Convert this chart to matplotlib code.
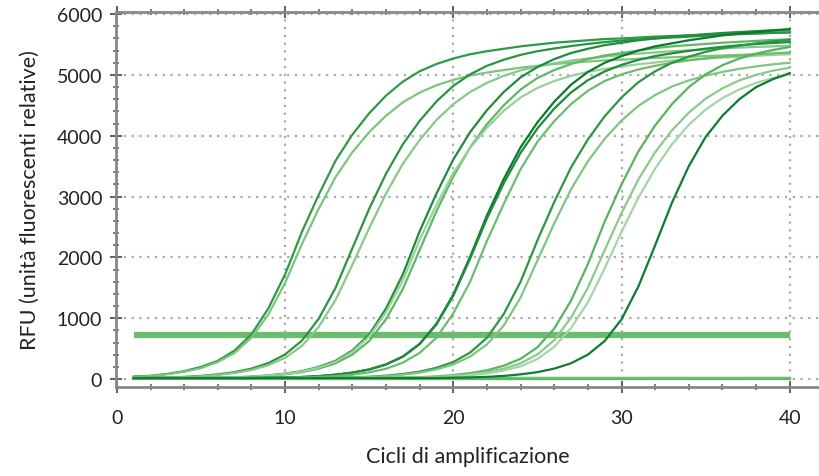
import matplotlib
matplotlib.use('Agg')
import matplotlib.pyplot as plt
from matplotlib.ticker import MultipleLocator

plt.rcParams['font.family'] = ['Lato', 'DejaVu Sans']

cycles = list(range(1, 41))

# amplification curves, RFU per cycle
rfu_a1 = [40, 55, 85, 130, 200, 300, 470, 735, 1160, 1720, 2420, 3030, 3590, 4020, 4370, 4660, 4890, 5060, 5180, 5270,
          5340, 5390, 5430, 5470, 5500, 5530, 5550, 5570, 5590, 5600, 5615, 5630, 5640, 5650, 5660, 5670, 5680, 5685, 5695, 5700]
rfu_a2 = [30, 50, 80, 120, 180, 280, 430, 680, 1060, 1580, 2220, 2800, 3320, 3730, 4060, 4330, 4550, 4710, 4830, 4920,
          4990, 5040, 5080, 5120, 5150, 5180, 5200, 5220, 5240, 5250, 5265, 5280, 5290, 5300, 5310, 5320, 5330, 5335, 5345, 5350]
rfu_b1 = [18, 23, 28, 36, 52, 78, 114, 172, 262, 405, 632, 992, 1500, 2150, 2800, 3375, 3860, 4245, 4565, 4820,
          5010, 5150, 5250, 5330, 5390, 5435, 5475, 5510, 5540, 5565, 5585, 5600, 5615, 5630, 5645, 5660, 5670, 5680, 5690, 5700]
rfu_b2 = [15, 20, 25, 32, 45, 68, 100, 150, 228, 350, 545, 860, 1300, 1880, 2480, 3050, 3540, 3930, 4260, 4520,
          4720, 4870, 4985, 5075, 5140, 5190, 5235, 5270, 5300, 5330, 5350, 5370, 5390, 5405, 5420, 5435, 5450, 5460, 5470, 5480]
rfu_c1 = [15, 15, 16, 18, 20, 25, 30, 40, 60, 90, 130, 200, 300, 470, 730, 1160, 1720, 2430, 3050, 3610,
          4060, 4420, 4720, 4960, 5130, 5260, 5360, 5430, 5490, 5530, 5570, 5600, 5630, 5650, 5670, 5690, 5705, 5720, 5735, 5750]
rfu_c2 = [15, 15, 15, 16, 18, 23, 28, 36, 52, 78, 114, 172, 260, 402, 626, 982, 1480, 2120, 2760, 3330,
          3810, 4190, 4500, 4760, 4950, 5080, 5180, 5260, 5320, 5360, 5400, 5440, 5470, 5490, 5510, 5530, 5545, 5560, 5575, 5585]
rfu_c3 = [14, 14, 15, 17, 19, 24, 29, 38, 57, 86, 124, 190, 285, 450, 700, 1100, 1620, 2290, 2865, 3390,
          3800, 4135, 4410, 4630, 4785, 4900, 4985, 5050, 5100, 5140, 5175, 5205, 5235, 5250, 5270, 5285, 5300, 5315, 5330, 5340]
rfu_d1 = [15, 15, 15, 15, 15, 16, 17, 19, 22, 27, 34, 48, 72, 106, 158, 240, 370, 580, 910, 1390,
          2010, 2690, 3290, 3810, 4220, 4560, 4840, 5050, 5200, 5310, 5400, 5470, 5520, 5570, 5610, 5650, 5680, 5705, 5730, 5750]
rfu_d2 = [15, 15, 15, 15, 15, 16, 17, 19, 22, 27, 34, 48, 72, 106, 158, 240, 368, 574, 898, 1370,
          1980, 2640, 3220, 3720, 4120, 4446, 4712, 4914, 5058, 5166, 5248, 5310, 5356, 5396, 5432, 5462, 5488, 5508, 5526, 5541]
rfu_d3 = [15, 15, 15, 15, 15, 15, 16, 17, 19, 22, 27, 34, 48, 72, 110, 170, 270, 430, 680, 1080,
          1600, 2270, 2880, 3450, 3900, 4240, 4520, 4740, 4900, 5010, 5090, 5150, 5200, 5240, 5270, 5300, 5320, 5340, 5355, 5370]
rfu_e1 = [15, 15, 15, 15, 15, 15, 15, 15, 16, 17, 18, 20, 24, 29, 38, 56, 84, 122, 186, 280,
          436, 678, 1070, 1600, 2280, 2910, 3480, 3940, 4320, 4630, 4880, 5060, 5200, 5300, 5380, 5440, 5480, 5520, 5550, 5580]
rfu_e2 = [15, 15, 15, 15, 15, 15, 15, 15, 15, 16, 17, 18, 22, 26, 33, 48, 72, 105, 160, 240,
          370, 570, 880, 1340, 1950, 2560, 3120, 3580, 3950, 4250, 4490, 4670, 4810, 4910, 4990, 5050, 5100, 5140, 5175, 5200]
rfu_f1 = [15, 15, 15, 15, 15, 15, 15, 15, 15, 15, 15, 15, 16, 17, 18, 21, 26, 32, 44, 66,
          98, 144, 220, 334, 522, 830, 1290, 1890, 2590, 3200, 3740, 4170, 4520, 4800, 5010, 5160, 5270, 5350, 5410, 5460]
rfu_f2 = [15, 15, 15, 15, 15, 15, 15, 15, 15, 15, 15, 15, 15, 16, 17, 18, 22, 27, 36, 52,
          78, 114, 172, 260, 405, 640, 1010, 1500, 2120, 2730, 3280, 3730, 4090, 4380, 4610, 4780, 4910, 5000, 5070, 5120]
rfu_f3 = [15, 15, 15, 15, 15, 15, 15, 15, 15, 15, 15, 15, 15, 15, 15, 16, 19, 23, 30, 42,
          62, 92, 140, 210, 330, 530, 840, 1260, 1820, 2420, 2980, 3460, 3860, 4180, 4430, 4620, 4760, 4870, 4950, 5010]
rfu_g1 = [15, 15, 15, 15, 15, 15, 15, 15, 15, 15, 15, 15, 15, 15, 15, 15, 16, 17, 18, 23,
          28, 36, 52, 78, 114, 172, 260, 402, 626, 982, 1520, 2200, 2900, 3500, 3980, 4330, 4600, 4800, 4930, 5030]
# negative controls, flat near zero
rfu_neg1 = [40, 35, 30, 28, 26, 25, 24, 24, 23, 23, 22, 22, 22, 21, 21, 21, 20, 20, 20, 20,
            20, 20, 20, 20, 20, 20, 20, 20, 20, 20, 20, 20, 20, 20, 20, 20, 20, 20, 20, 20]
rfu_neg2 = [10, 8, 6, 5, 5, 4, 4, 3, 3, 3, 2, 2, 2, 2, 2, 2, 2, 2, 2, 2,
            2, 2, 2, 2, 2, 2, 2, 2, 2, 2, 2, 2, 2, 2, 2, 2, 2, 2, 2, 2]

threshold_cycles = [1, 40]
threshold_rfu = [730, 730]

curves = [
    (rfu_a1, '#2f9a44'), (rfu_a2, '#7cc47f'),
    (rfu_b1, '#2b9542'), (rfu_b2, '#86c988'),
    (rfu_c1, '#1e8c3c'), (rfu_c2, '#5fb865'), (rfu_c3, '#98d19a'),
    (rfu_d1, '#0b7a2f'), (rfu_d2, '#1f8b3b'), (rfu_d3, '#6bbd70'),
    (rfu_e1, '#2d9643'), (rfu_e2, '#7fc682'),
    (rfu_f1, '#58b35f'), (rfu_f2, '#8acb8c'), (rfu_f3, '#a2d6a4'),
    (rfu_g1, '#0e7c32'),
]

fig = plt.figure(figsize=(8.2, 4.77), dpi=100)
ax = fig.add_axes([0.1415, 0.1866, 0.8585, 0.7868])

ax.plot(threshold_cycles, threshold_rfu, color='#6cbd6b', lw=4.5, solid_capstyle='butt', zorder=2)
ax.plot(cycles, rfu_neg1, color='#7cc47f', lw=1.7, zorder=3)
ax.plot(cycles, rfu_neg2, color='#5fb865', lw=1.7, zorder=3)
for vals, col in curves:
    ax.plot(cycles, vals, color=col, lw=1.6, zorder=3)

ax.set_xlim(-0.05, 41.8)
ax.set_ylim(-130, 6040)
ax.xaxis.set_major_locator(MultipleLocator(10))
ax.xaxis.set_minor_locator(MultipleLocator(2))
ax.yaxis.set_major_locator(MultipleLocator(1000))
ax.yaxis.set_minor_locator(MultipleLocator(200))

ax.grid(True, which='major', color='#aaaaaa', linestyle=(0, (1, 2.5)), lw=1.6)
ax.set_axisbelow(True)

for s in ['left', 'bottom', 'top']:
    ax.spines[s].set_color('#888888')
    ax.spines[s].set_linewidth(2)
ax.spines['right'].set_visible(False)

ax.tick_params(which='major', direction='inout', length=8, width=1.3, color='#555555',
               top=True, labelsize=14, labelcolor='#222222')
ax.tick_params(which='minor', direction='inout', length=5, width=1.2, color='#666666', top=True)
ax.tick_params(axis='x', which='major', pad=12)
ax.tick_params(axis='y', which='major', pad=6)

ax.set_xlabel('Cicli di amplificazione', fontsize=15.5, color='#222222', labelpad=14)
ax.set_ylabel('RFU (unità fluorescenti relative)', fontsize=15.5, color='#222222', labelpad=12)

fig.savefig('out.png', dpi=100)
